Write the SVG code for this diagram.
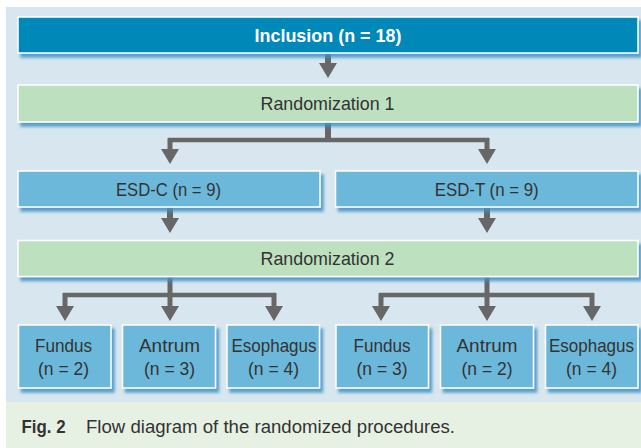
<svg xmlns="http://www.w3.org/2000/svg" width="641" height="448" viewBox="0 0 641 448">
<defs>
<filter id="sh" x="-10%" y="-20%" width="130%" height="160%">
<feDropShadow dx="3" dy="4" stdDeviation="1.6" flood-color="#3f93c4" flood-opacity="0.85"/>
</filter>
<style>
.box{stroke:#ffffff;stroke-width:1.5;filter:url(#sh);}
.dark{fill:#0088b9;}
.green{fill:#bde0bf;}
.blue{fill:#6cb8da;}
.t{font-family:"Liberation Sans","Noto Sans",Arial,sans-serif;font-size:18.5px;fill:#333333;text-anchor:middle;}
.tb{font-family:"Liberation Sans","Noto Sans",Arial,sans-serif;font-size:18.5px;font-weight:bold;fill:#ffffff;text-anchor:middle;}
.ln{stroke:#676767;fill:none;}
.ah{fill:#676767;}
.cap{font-family:"Liberation Sans","Noto Sans",Arial,sans-serif;font-size:17.5px;fill:#333333;}
</style>
</defs>
<rect x="0" y="0" width="641" height="448" fill="#ffffff"/>
<rect x="6" y="7" width="635" height="395" fill="#d8e7ef"/>
<rect x="6" y="402" width="635" height="46" fill="#e6f1e4"/>

<g id="connectors">
<line class="ln" x1="328" y1="53" x2="328" y2="64" stroke-width="6"/>
<polygon class="ah" points="319,63 337,63 328,78"/>
<line class="ln" x1="328" y1="122" x2="328" y2="142" stroke-width="6"/>
<line class="ln" x1="168" y1="140" x2="489" y2="140" stroke-width="4.5"/>
<line class="ln" x1="170" y1="138" x2="170" y2="150" stroke-width="5"/>
<polygon class="ah" points="161,149 179,149 170,164"/>
<line class="ln" x1="487" y1="138" x2="487" y2="150" stroke-width="5"/>
<polygon class="ah" points="478,149 496,149 487,164"/>
<line class="ln" x1="170" y1="207" x2="170" y2="219" stroke-width="6"/>
<polygon class="ah" points="161,218 179,218 170,233"/>
<line class="ln" x1="487" y1="207" x2="487" y2="219" stroke-width="6"/>
<polygon class="ah" points="478,218 496,218 487,233"/>
<line class="ln" x1="170" y1="277" x2="170" y2="307" stroke-width="5"/>
<line class="ln" x1="63" y1="295" x2="276" y2="295" stroke-width="4.5"/>
<line class="ln" x1="65" y1="293" x2="65" y2="307" stroke-width="5"/>
<line class="ln" x1="274" y1="293" x2="274" y2="307" stroke-width="5"/>
<polygon class="ah" points="56,306 74,306 65,321"/>
<polygon class="ah" points="161,306 179,306 170,321"/>
<polygon class="ah" points="265,306 283,306 274,321"/>
<line class="ln" x1="487" y1="277" x2="487" y2="307" stroke-width="5"/>
<line class="ln" x1="379" y1="295" x2="594" y2="295" stroke-width="4.5"/>
<line class="ln" x1="381" y1="293" x2="381" y2="307" stroke-width="5"/>
<line class="ln" x1="592" y1="293" x2="592" y2="307" stroke-width="5"/>
<polygon class="ah" points="372,306 390,306 381,321"/>
<polygon class="ah" points="478,306 496,306 487,321"/>
<polygon class="ah" points="583,306 601,306 592,321"/>
</g>

<g id="inclusion">
<rect class="box dark" x="18" y="17" width="620" height="36"/>
<text class="tb" x="328" y="41.5" textLength="147" lengthAdjust="spacingAndGlyphs">Inclusion (n = 18)</text>
</g>
<g id="randomization1">
<rect class="box green" x="18" y="85" width="620" height="37"/>
<text class="t" x="327.5" y="110" textLength="134" lengthAdjust="spacingAndGlyphs">Randomization 1</text>
</g>
<g id="esdc">
<rect class="box blue" x="18" y="171" width="302" height="36"/>
<text class="t" x="168.5" y="195.5" textLength="105" lengthAdjust="spacingAndGlyphs">ESD-C (n = 9)</text>
</g>
<g id="esdt">
<rect class="box blue" x="335.5" y="171" width="302.5" height="36"/>
<text class="t" x="486.7" y="195.5" textLength="104" lengthAdjust="spacingAndGlyphs">ESD-T (n = 9)</text>
</g>
<g id="randomization2">
<rect class="box green" x="18" y="240.5" width="620" height="36"/>
<text class="t" x="327.5" y="265" textLength="134" lengthAdjust="spacingAndGlyphs">Randomization 2</text>
</g>

<g id="fundus1">
<rect class="box blue" x="18.5" y="325" width="92.5" height="63"/>
<text class="t" x="63.5" y="352" textLength="57" lengthAdjust="spacingAndGlyphs">Fundus</text>
<text class="t" x="63.5" y="375" textLength="51" lengthAdjust="spacingAndGlyphs">(n = 2)</text>
</g>
<g id="antrum1">
<rect class="box blue" x="122.5" y="325" width="93" height="63"/>
<text class="t" x="169.5" y="352" textLength="61" lengthAdjust="spacingAndGlyphs">Antrum</text>
<text class="t" x="169.5" y="375" textLength="51" lengthAdjust="spacingAndGlyphs">(n = 3)</text>
</g>
<g id="esophagus1">
<rect class="box blue" x="227" y="325" width="92.5" height="63"/>
<text class="t" x="274" y="352" textLength="85" lengthAdjust="spacingAndGlyphs">Esophagus</text>
<text class="t" x="273.5" y="375" textLength="51" lengthAdjust="spacingAndGlyphs">(n = 4)</text>
</g>
<g id="fundus2">
<rect class="box blue" x="336" y="325" width="92.5" height="63"/>
<text class="t" x="382" y="352" textLength="57" lengthAdjust="spacingAndGlyphs">Fundus</text>
<text class="t" x="382" y="375" textLength="51" lengthAdjust="spacingAndGlyphs">(n = 3)</text>
</g>
<g id="antrum2">
<rect class="box blue" x="440.5" y="325" width="93" height="63"/>
<text class="t" x="487" y="352" textLength="61" lengthAdjust="spacingAndGlyphs">Antrum</text>
<text class="t" x="487" y="375" textLength="51" lengthAdjust="spacingAndGlyphs">(n = 2)</text>
</g>
<g id="esophagus2">
<rect class="box blue" x="545.5" y="325" width="92.5" height="63"/>
<text class="t" x="591.5" y="352" textLength="85" lengthAdjust="spacingAndGlyphs">Esophagus</text>
<text class="t" x="591.5" y="375" textLength="51" lengthAdjust="spacingAndGlyphs">(n = 4)</text>
</g>

<g id="caption">
<text class="cap" x="21.5" y="433" font-weight="bold" textLength="44" lengthAdjust="spacingAndGlyphs">Fig. 2</text>
<text class="cap" x="86" y="433" textLength="369" lengthAdjust="spacingAndGlyphs">Flow diagram of the randomized procedures.</text>
</g>
</svg>
